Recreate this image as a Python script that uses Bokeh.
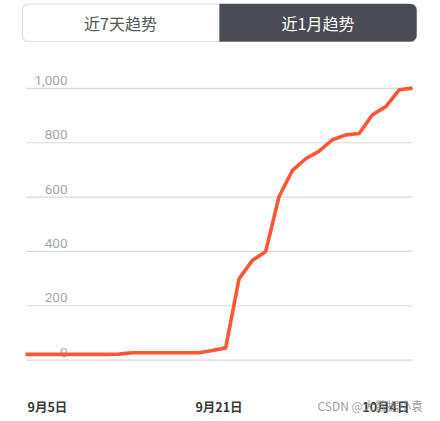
from bokeh.plotting import figure
from bokeh.models import Range1d, BoxAnnotation, ColumnDataSource
from bokeh.core.properties import value
from bokeh.embed import file_html
from bokeh.resources import INLINE

# ---- data ----
dates = ["9月%d日" % d for d in range(5, 31)] + ["10月%d日" % d for d in range(1, 5)]
counts = [21, 21, 21, 21, 21, 21, 21, 22, 27, 27, 27, 27, 27, 27, 35, 45,
          299, 367, 400, 602, 698, 741, 769, 811, 829, 834, 903, 933, 995, 1001]
ytick_values = [0, 200, 400, 600, 800, 1000]
ytick_labels = ["0", "200", "400", "600", "800", "1,000"]
xtick_labels = ["9月5日", "9月21日", "10月4日"]
tabs = ["近7天趋势", "近1月趋势"]
watermark = "CSDN @大数据小袁"

# ---- pixel <-> data helpers (picture pixel positions) ----
X0, DX = 25.0, 13.345
Y0, DY = 359.6, 0.2717
def dx(px):
    return (px - X0) / DX
def dy(py):
    return (Y0 - py) / DY

W, H = 440, 421
p = figure(width=W, height=H, output_backend="svg", toolbar_location=None,
           x_range=Range1d(dx(0), dx(W)), y_range=Range1d(dy(H), dy(0)),
           min_border=0, outline_line_color=None,
           background_fill_color="white", border_fill_color="white")
p.axis.visible = False
p.grid.visible = False

idx = list(range(len(counts)))

# tab buttons (drawn beneath glyph-level text)
p.add_layout(BoxAnnotation(left=dx(22), right=dx(416), top=dy(3.5), bottom=dy(41),
                           fill_color="white", fill_alpha=1, line_color="#8a8a8a",
                           line_width=1.2, border_radius=6, level="underlay"))
p.add_layout(BoxAnnotation(left=dx(219), right=dx(416), top=dy(3.5), bottom=dy(41),
                           fill_color="#4a4c55", fill_alpha=1, line_color="#4a4c55",
                           line_width=1.2, border_radius=(0, 6, 6, 0), level="underlay"))
p.text(x=[dx(120), dx(317.5)], y=[dy(22.5)] * 2, text=tabs,
       text_align="center", text_baseline="middle",
       text_font=value("Noto Sans CJK SC"), text_font_size="16px",
       text_color=["#555555", "#ffffff"])

# grid lines
p.segment(x0=[dx(26)] * len(ytick_values), x1=[dx(412)] * len(ytick_values),
          y0=ytick_values, y1=ytick_values, line_color="#d9d9d9", line_width=1.2)

# y labels
p.text(x=[dx(67)] * len(ytick_values), y=ytick_values, text=ytick_labels,
       text_align="right", text_baseline="alphabetic", y_offset=-8,
       text_font=value("Roboto"), text_font_size="13.5px", text_color="#a3a7ae")

# series line
src = ColumnDataSource(dict(x=idx, y=counts, d=dates))
p.line("x", "y", source=src, line_color="#ff5733", line_width=3.6, line_join="round")

# x labels
p.text(x=[dx(27), dx(218.5), dx(409)], y=[dy(406)] * 3, text=xtick_labels,
       text_align=["left", "center", "right"], text_baseline="middle",
       text_font=value("Noto Sans CJK SC"), text_font_size="12.5px",
       text_font_style="bold", text_color="#3a3a3a")

# watermark
p.text(x=[dx(317)], y=[dy(405)], text=[watermark], text_align="left",
       text_baseline="middle", text_font=value("Noto Sans CJK SC"),
       text_font_size="12px", text_color="#8c8c8c", text_alpha=0.85)

open("out.html", "w").write(file_html(p, INLINE))
